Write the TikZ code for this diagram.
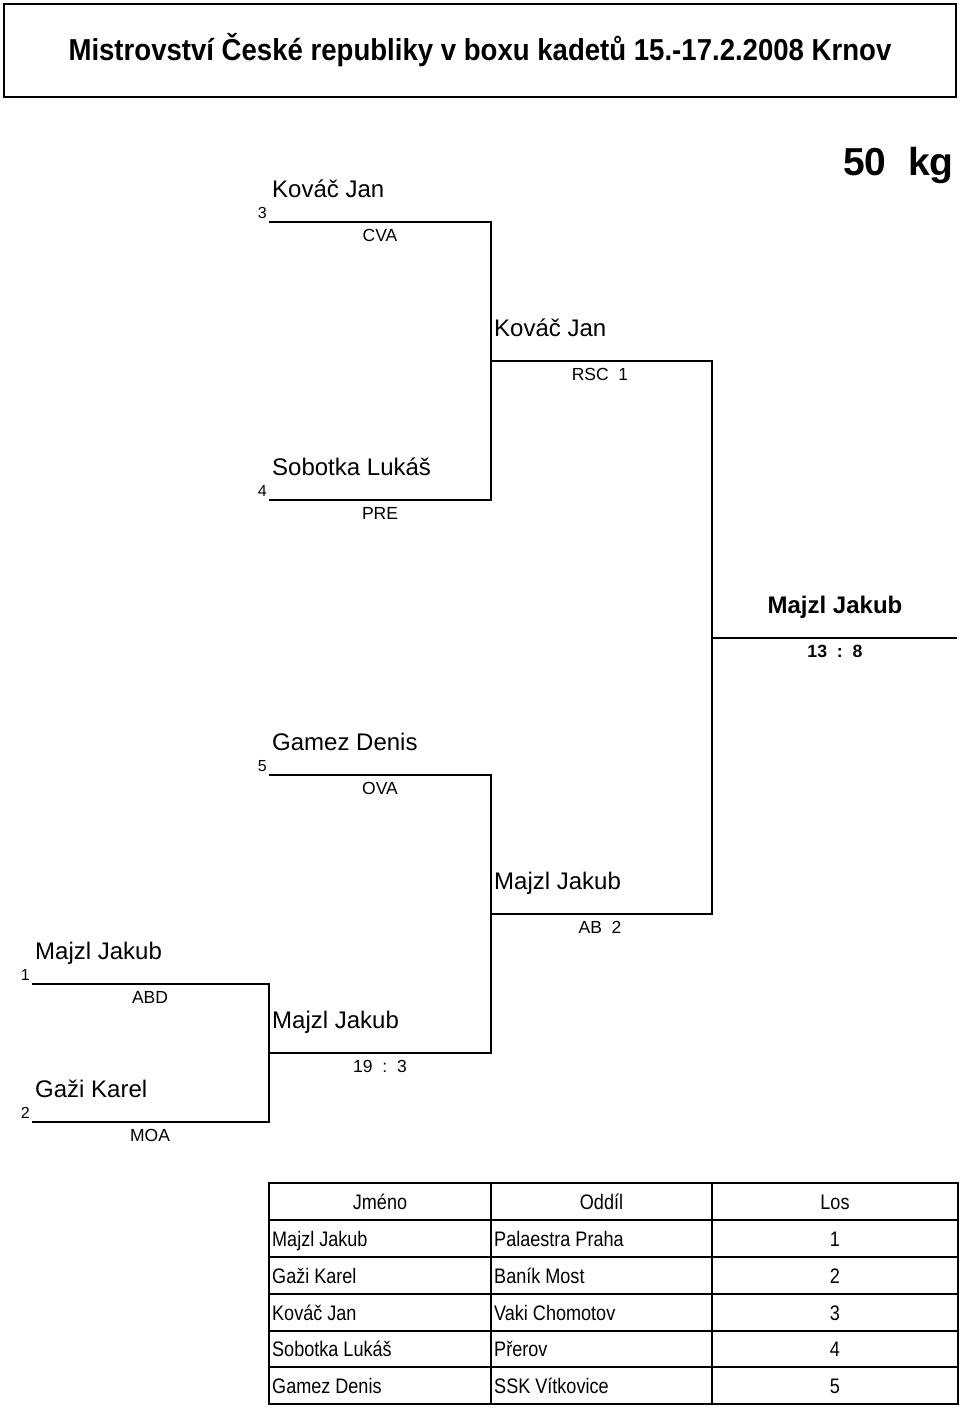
\documentclass[tikz,border=0pt]{standalone}
\usepackage{fontspec}
\setmainfont{Liberation Sans}
\newfontfamily\narrowsans{Liberation Sans}[FakeStretch=0.86]
\newfontfamily\titlesans{Liberation Sans}[FakeStretch=0.91]
\tikzset{
  ln/.style={line width=2pt},
  tbl/.style={line width=2pt},
  pname/.style={anchor=base west, inner sep=0pt, font=\fontsize{24}{28}\selectfont},
  seednum/.style={anchor=base east, inner sep=0pt, font=\fontsize{16}{18}\selectfont},
  sublbl/.style={anchor=base, inner sep=0pt, font=\fontsize{17.5}{20}\selectfont},
  lcell/.style={anchor=base west, inner sep=0pt, font=\narrowsans\fontsize{21}{24}\selectfont},
  ccell/.style={anchor=base, inner sep=0pt, font=\narrowsans\fontsize{21}{24}\selectfont}
}
\begin{document}
\begin{tikzpicture}[x=1pt,y=-1pt]
\useasboundingbox (0,0) rectangle (960,1409);
% title
\draw[line width=2.5pt] (4,4) rectangle (956,97);
\node[anchor=base, inner sep=0pt, font=\titlesans\bfseries\fontsize{30.3}{34}\selectfont] (title) at (480,60) {Mistrovství České republiky v boxu kadetů 15.-17.2.2008 Krnov};
\node[anchor=base west, inner sep=0pt, font=\bfseries\fontsize{39}{44}\selectfont] (weight) at (843,175) {50\ \ kg};

% bracket coordinates
\coordinate (a3) at (269,222); \coordinate (b3) at (491,222);
\coordinate (a4) at (269,500); \coordinate (b4) at (491,500);
\coordinate (s1a) at (491,361); \coordinate (s1b) at (712,361);
\coordinate (s2a) at (491,914); \coordinate (s2b) at (712,914);
\coordinate (fa) at (712,638); \coordinate (fb) at (957,638);
\coordinate (a5) at (269,775); \coordinate (b5) at (491,775);
\coordinate (aq) at (269,1053); \coordinate (bq) at (491,1053);
\coordinate (a1) at (32,984); \coordinate (b1) at (269,984);
\coordinate (a2) at (32,1122); \coordinate (b2) at (269,1122);

\draw[ln] (a3) -- (b3) -- (b4) -- (a4);
\draw[ln] (s1a) -- (s1b) -- (s2b) -- (s2a);
\draw[ln] (fa) -- (fb);
\draw[ln] (a5) -- (b5) -- (bq) -- (aq);
\draw[ln] (a1) -- (b1) -- (b2) -- (a2);

% player 3
\node[pname] (n3) at (272,197) {Kováč Jan};
\node[seednum] (k3) at (267,218) {3};
\node[sublbl] (c3) at (380,241) {CVA};
% player 4
\node[pname] (n4) at (272,475) {Sobotka Lukáš};
\node[seednum] (k4) at (267,496) {4};
\node[sublbl] (c4) at (380,519) {PRE};
% semi winner top
\node[pname] (w1) at (494,336) {Kováč Jan};
\node[sublbl] (r1) at (600,380) {RSC\ \ 1};
% final
\node[anchor=base, inner sep=0pt, font=\bfseries\fontsize{24}{28}\selectfont] (wf) at (835,613) {Majzl Jakub};
\node[anchor=base, inner sep=0pt, font=\bfseries\fontsize{17.7}{20}\selectfont] (rf) at (835,657) {13\ \ :\ \ 8};
% player 5
\node[pname] (n5) at (272,750) {Gamez Denis};
\node[seednum] (k5) at (267,771) {5};
\node[sublbl] (c5) at (380,794) {OVA};
% semi winner bottom
\node[pname] (w2) at (494,889) {Majzl Jakub};
\node[sublbl] (r2) at (600,933) {AB\ \ 2};
% player 1
\node[pname] (n1) at (35,959) {Majzl Jakub};
\node[seednum] (k1) at (30,980) {1};
\node[sublbl] (c1) at (150,1003) {ABD};
% player 2
\node[pname] (n2) at (35,1097) {Gaži Karel};
\node[seednum] (k2) at (30,1118) {2};
\node[sublbl] (c2) at (150,1141) {MOA};
% quarter winner
\node[pname] (wq) at (272,1028) {Majzl Jakub};
\node[sublbl] (rq) at (380,1072) {19\ \ :\ \ 3};

% table
\draw[tbl] (269,1183) rectangle (958,1404);
\foreach \yy in {1220,1257,1294,1331,1367} \draw[tbl] (269,\yy) -- (958,\yy);
\draw[tbl] (491,1183) -- (491,1404);
\draw[tbl] (712,1183) -- (712,1404);

\node[ccell] (h1) at (380,1209) {Jméno};
\node[ccell] (h2) at (601.5,1209) {Oddíl};
\node[ccell] (h3) at (835,1209) {Los};

\node[lcell] (t11) at (272,1246) {Majzl Jakub};
\node[lcell] (t12) at (494,1246) {Palaestra Praha};
\node[ccell] (t13) at (835,1246) {1};
\node[lcell] (t21) at (272,1283) {Gaži Karel};
\node[lcell] (t22) at (494,1283) {Baník Most};
\node[ccell] (t23) at (835,1283) {2};
\node[lcell] (t31) at (272,1320) {Kováč Jan};
\node[lcell] (t32) at (494,1320) {Vaki Chomotov};
\node[ccell] (t33) at (835,1320) {3};
\node[lcell] (t41) at (272,1356.5) {Sobotka Lukáš};
\node[lcell] (t42) at (494,1356.5) {Přerov};
\node[ccell] (t43) at (835,1356.5) {4};
\node[lcell] (t51) at (272,1393) {Gamez Denis};
\node[lcell] (t52) at (494,1393) {SSK Vítkovice};
\node[ccell] (t53) at (835,1393) {5};
\end{tikzpicture}
\end{document}
